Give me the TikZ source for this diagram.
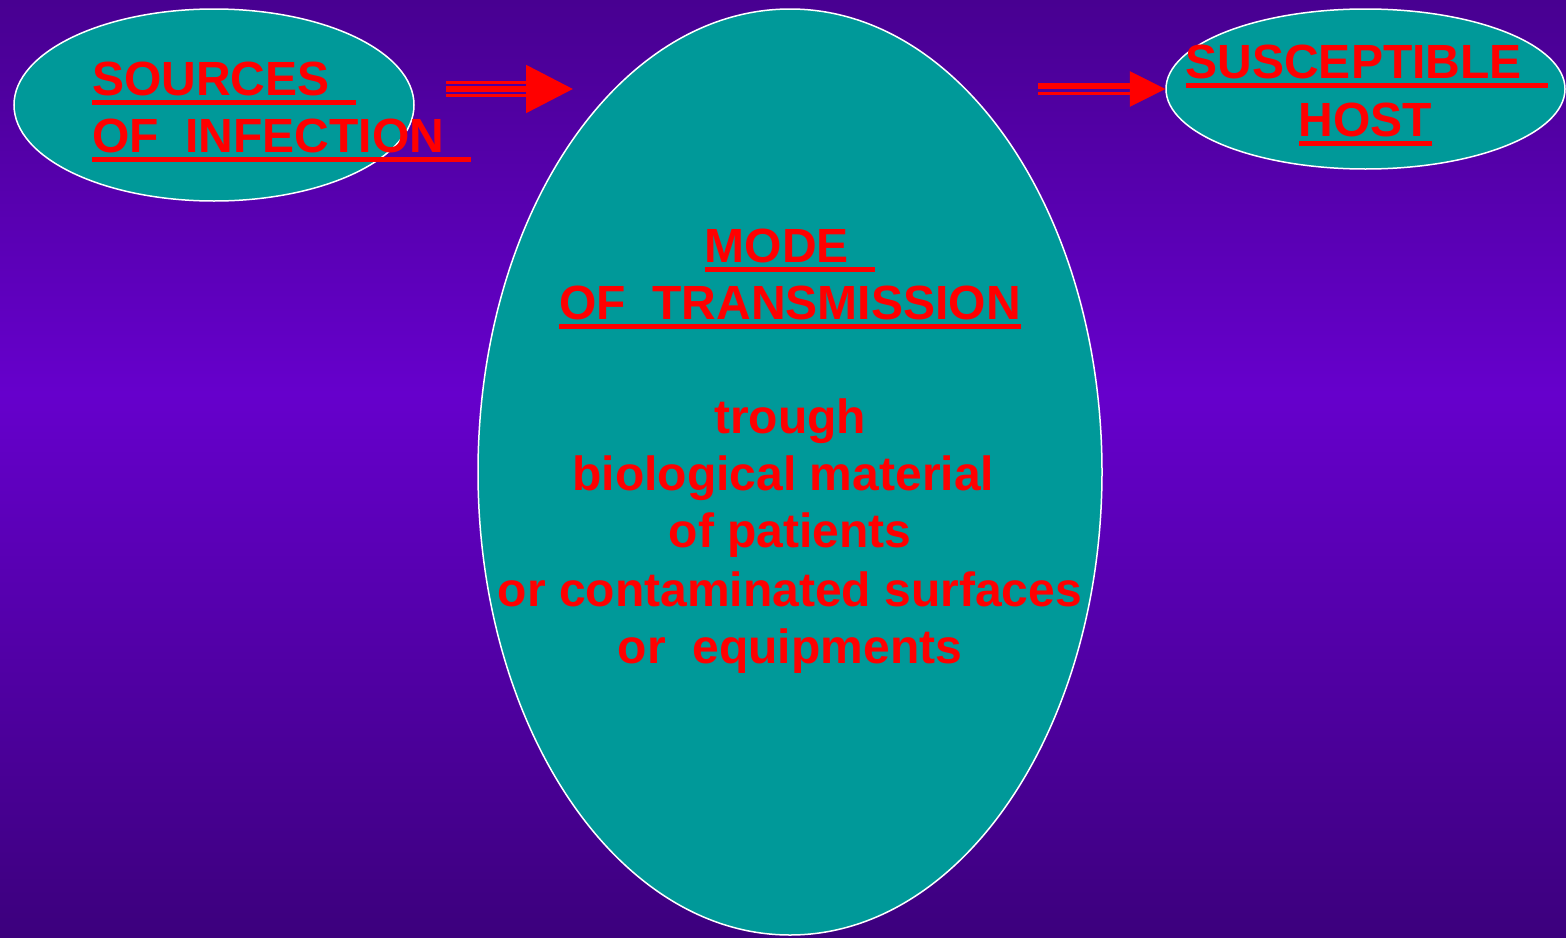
\documentclass[tikz,border=0pt]{standalone}
\usepackage{xcolor}
\usepackage{fontspec}
\setmainfont{Liberation Sans}
\usepackage{tikz}
\usetikzlibrary{shapes.geometric,arrows.meta}

\definecolor{bgtop}{RGB}{72,0,145}
\definecolor{bgmid}{RGB}{102,0,204}
\definecolor{bgbot}{RGB}{60,0,125}
\definecolor{blobteal}{RGB}{0,153,153}
\definecolor{alarmred}{RGB}{255,0,0}
\pgfdeclareverticalshading{slidebg}{100bp}{color(0bp)=(bgbot); color(25bp)=(bgbot); color(54bp)=(bgmid); color(75bp)=(bgtop); color(100bp)=(bgtop)}

% text with a thick red bar under it
\newcommand\barred[1]{\setbox0\hbox{#1}\rlap{\rule[-10pt]{\wd0}{5.5pt}}\box0}

\tikzset{
  blob/.style={draw=white, line width=1.5pt, fill=blobteal, ellipse, inner sep=0pt},
  words/.style={text=alarmred, font=\fontsize{48}{57}\selectfont\bfseries, inner sep=0pt, anchor=base},
  shaft/.style={draw=alarmred, fill=alarmred}
}

\begin{document}
\begin{tikzpicture}[x=1pt, y=-1pt]
                % Background
                \useasboundingbox (0,0) rectangle (1566,937);
                \shade[shading=slidebg] (0,0) rectangle (1566,937);

                % Ellipses
                \node[blob, minimum width=400pt, minimum height=192pt] (sources) at (214,105) {};
                \node[blob, minimum width=624pt, minimum height=926pt] (mode) at (790,472) {};
                \node[blob, minimum width=399pt, minimum height=160pt] (host) at (1365.5,89) {};

                % Titles
                \node[words, anchor=base west] (src1) at (92,95) {\barred{SOURCES\ \ }};
                \node[words, anchor=base west] (src2) at (92,152) {\barred{OF\ \ INFECTION\ \ }};
                \node[words] (mode1) at (790,262) {\barred{MODE\ \ }};
                \node[words] (mode2) at (790,319) {\barred{OF\ \ TRANSMISSION}};
                \node[words] (host1) at (1367,78) {\barred{SUSCEPTIBLE\ \ }};
                \node[words] (host2) at (1365.5,136) {\barred{HOST}};

                % Ways of transmission
                \node[words] (way1) at (790,433) {trough};
                \node[words] (way2) at (790,490) {\hbox{biological material\ }};
                \node[words] (way3) at (790,547) {of patients};
                \node[words] (way4) at (790,606) {or contaminated surfaces};
                \node[words] (way5) at (790,663) {\hbox{or\ \ equipments}};

                % Arrows
                \coordinate (pA) at (446,89);
                \coordinate (hA) at (527,89);
                \coordinate (qA) at (573,89);
                \coordinate (pB) at (1038,89);
                \coordinate (hB) at (1131,89);

                \draw[shaft, line width=5.5pt, -{Triangle[length=47pt,width=47pt]}] (pA) -- (qA);
                \draw[shaft, line width=2.3pt] ([yshift=6.6pt]pA) -- ([yshift=6.6pt]hA);
                \draw[shaft, line width=3pt] ([yshift=-6.4pt]pA) -- ([yshift=-6.4pt]hA);

                \draw[shaft, line width=0.5pt, -{Triangle[length=35.5pt,width=35.5pt]}] (hB) -- (host.west);
                \draw[shaft, line width=6.6pt] ([yshift=3pt]pB) -- ([yshift=3pt]hB);
                \draw[shaft, line width=2.7pt] ([yshift=-4.7pt]pB) -- ([yshift=-4.7pt]hB);
\end{tikzpicture}
\end{document}
